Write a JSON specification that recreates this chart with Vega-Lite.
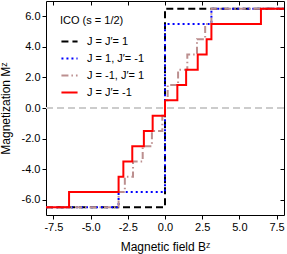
{
  "$schema": "https://vega.github.io/schema/vega-lite/v6.json",
  "autosize": {"type": "none"},
  "width": 238,
  "height": 214,
  "padding": {"left": 46, "top": 1, "right": 3, "bottom": 39},
  "background": "white",
  "config": {
    "view": {"stroke": "black", "strokeWidth": 1},
    "font": "Liberation Sans",
    "axis": {
      "labelFont": "Liberation Sans",
      "titleFont": "Liberation Sans",
      "labelFontSize": 11,
      "titleFontSize": 12,
      "titleFontWeight": "normal",
      "labelColor": "black",
      "titleColor": "black",
      "tickColor": "black",
      "domainColor": "black",
      "grid": false,
      "tickSize": 4,
      "labelPadding": 2
    },
    "legend": {
      "labelFont": "Liberation Sans",
      "titleFont": "Liberation Sans"
    }
  },
  "data": {
    "values": [
      {"series": "J = J′= 1", "B": -8, "M": -6.5},
      {"series": "J = J′= 1", "B": 0, "M": 6.5},
      {"series": "J = J′= 1", "B": 8, "M": 6.5},
      {"series": "J =  1, J′= -1", "B": -8, "M": -6.5},
      {"series": "J =  1, J′= -1", "B": -3.12, "M": -5.5},
      {"series": "J =  1, J′= -1", "B": 0, "M": 5.5},
      {"series": "J =  1, J′= -1", "B": 3.12, "M": 6.5},
      {"series": "J =  1, J′= -1", "B": 8, "M": 6.5},
      {"series": "J = -1, J′=  1", "B": -8, "M": -6.5},
      {"series": "J = -1, J′=  1", "B": -3.12, "M": -5.5},
      {"series": "J = -1, J′=  1", "B": -2.7, "M": -4.5},
      {"series": "J = -1, J′=  1", "B": -2.15, "M": -3.5},
      {"series": "J = -1, J′=  1", "B": -1.5, "M": -2.5},
      {"series": "J = -1, J′=  1", "B": -0.88, "M": -1.5},
      {"series": "J = -1, J′=  1", "B": -0.18, "M": -0.5},
      {"series": "J = -1, J′=  1", "B": 0, "M": 0.5},
      {"series": "J = -1, J′=  1", "B": 0.18, "M": 1.5},
      {"series": "J = -1, J′=  1", "B": 0.88, "M": 2.5},
      {"series": "J = -1, J′=  1", "B": 1.5, "M": 3.5},
      {"series": "J = -1, J′=  1", "B": 2.15, "M": 4.5},
      {"series": "J = -1, J′=  1", "B": 2.7, "M": 5.5},
      {"series": "J = -1, J′=  1", "B": 3.12, "M": 6.5},
      {"series": "J = -1, J′=  1", "B": 8, "M": 6.5},
      {"series": "J = J′= -1", "B": -8, "M": -6.5},
      {"series": "J = J′= -1", "B": -6.45, "M": -5.5},
      {"series": "J = J′= -1", "B": -3.12, "M": -4.5},
      {"series": "J = J′= -1", "B": -2.8, "M": -3.5},
      {"series": "J = J′= -1", "B": -2.2, "M": -2.5},
      {"series": "J = J′= -1", "B": -1.42, "M": -1.5},
      {"series": "J = J′= -1", "B": -0.83, "M": -0.5},
      {"series": "J = J′= -1", "B": 0, "M": 0.5},
      {"series": "J = J′= -1", "B": 0.83, "M": 1.5},
      {"series": "J = J′= -1", "B": 1.42, "M": 2.5},
      {"series": "J = J′= -1", "B": 2.2, "M": 3.5},
      {"series": "J = J′= -1", "B": 2.8, "M": 4.5},
      {"series": "J = J′= -1", "B": 3.12, "M": 5.5},
      {"series": "J = J′= -1", "B": 6.45, "M": 6.5},
      {"series": "J = J′= -1", "B": 8, "M": 6.5}
    ]
  },
  "layer": [
    {
      "mark": {"type": "rule", "color": "#cccccc", "strokeWidth": 2, "strokeDash": [7, 4]},
      "encoding": {
        "y": {"datum": 0, "type": "quantitative", "scale": {"domain": [-7, 7], "nice": false, "zero": false}, "axis": null}
      }
    },
    {
      "mark": {"type": "line", "interpolate": "step-after", "strokeWidth": 2, "clip": true},
      "encoding": {
        "x": {
          "field": "B", "type": "quantitative",
          "scale": {"domain": [-8, 8], "nice": false, "zero": false},
          "axis": {
            "orient": "bottom",
            "title": "Magnetic field Bᶻ",
            "values": [-7.5, -5, -2.5, 0, 2.5, 5, 7.5],
            "labelExpr": "replace(format(datum.value, '.1f'), '\u2212', '-')",
            "titlePadding": 9,
            "domain": false
          }
        },
        "y": {
          "field": "M", "type": "quantitative",
          "scale": {"domain": [-7, 7], "nice": false, "zero": false},
          "axis": {
            "orient": "left",
            "title": "Magnetization Mᶻ",
            "values": [-6, -4, -2, 0, 2, 4, 6],
            "labelExpr": "replace(format(datum.value, '.1f'), '\u2212', '-')",
            "titlePadding": 9,
            "domain": false
          }
        },
        "color": {
          "field": "series", "type": "nominal",
          "scale": {
            "domain": ["J = J′= 1", "J =  1, J′= -1", "J = -1, J′=  1", "J = J′= -1"],
            "range": ["#000000", "#0000ff", "#bc8f8f", "#ff0000"]
          },
          "legend": {
            "title": "ICO (s = 1/2)",
            "orient": "none",
            "legendX": 14,
            "legendY": 14,
            "padding": 0,
            "titleFontSize": 11,
            "titleFontWeight": "normal",
            "titleColor": "black",
            "titlePadding": 6,
            "labelFontSize": 11,
            "labelColor": "black",
            "labelOffset": 8,
            "symbolType": "stroke",
            "symbolSize": 260,
            "symbolStrokeWidth": 2,
            "rowPadding": 2
          }
        },
        "strokeDash": {
          "field": "series", "type": "nominal",
          "scale": {
            "domain": ["J = J′= 1", "J =  1, J′= -1", "J = -1, J′=  1", "J = J′= -1"],
            "range": [[7, 4], [2, 3], [7, 3, 1.5, 3], [1, 0]]
          },
          "legend": {
            "title": "ICO (s = 1/2)",
            "orient": "none",
            "legendX": 14,
            "legendY": 14
          }
        },
        "order": {"field": "B", "type": "quantitative"}
      }
    },
    {
      "mark": {"type": "line", "opacity": 0},
      "encoding": {
        "x": {
          "field": "B", "type": "quantitative",
          "scale": {"domain": [-8, 8], "nice": false, "zero": false},
          "axis": {"orient": "top", "title": null, "labels": false, "domain": false, "tickSize": -4, "values": [-7.5, -5, -2.5, 0, 2.5, 5, 7.5]}
        },
        "y": {
          "field": "M", "type": "quantitative",
          "scale": {"domain": [-7, 7], "nice": false, "zero": false},
          "axis": {"orient": "right", "title": null, "labels": false, "domain": false, "tickSize": -4, "values": [-6, -4, -2, 0, 2, 4, 6]}
        },
        "detail": {"field": "series"}
      }
    }
  ],
  "resolve": {"axis": {"x": "independent", "y": "independent"}}
}
